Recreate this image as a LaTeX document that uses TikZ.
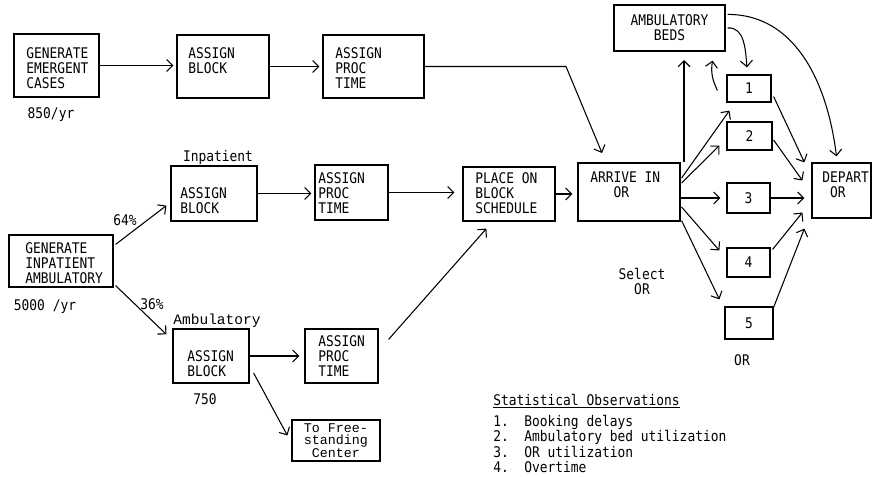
\documentclass[tikz,border=0pt]{standalone}
\usepackage{fontspec}
\newfontfamily\prfont[FakeStretch=0.88]{DejaVu Sans Mono}
\newfontfamily\courfont{Liberation Mono}
\usetikzlibrary{arrows.meta,calc,fit}
\begin{document}
\begin{tikzpicture}[x=0.75pt,y=-0.75pt,
  box/.style={draw,line width=0.9pt,inner sep=0pt},
  txt/.style={font=\prfont\fontsize{11}{11.25}\selectfont,inner sep=0pt,align=left},
  ctxt/.style={txt,align=center},
  lbl/.style={font=\prfont\fontsize{11}{11.25}\selectfont,inner sep=0pt},
  cr/.style={font=\courfont\fontsize{10.9}{8.8}\selectfont,inner sep=0pt,align=center},
  crs/.style={font=\courfont\fontsize{10}{9.6}\selectfont,inner sep=0pt,align=center},
  arr/.style={line width=0.8pt,-{Straight Barb[length=4.5pt,width=9pt]}},
]
\useasboundingbox (0,0) rectangle (876,477);

% top row
\node[box,fit={(14,34)(99,97)}] (gec) {};
\node[txt,anchor=north west] (gect) at (26,47) {GENERATE\\EMERGENT\\CASES};
\node[lbl] (r850) at (51,115) {850/yr};
\node[box,fit={(177,35)(269,98)}] (ab1) {};
\node[txt,anchor=north west] (ab1t) at (188,47) {ASSIGN\\BLOCK};
\node[box,fit={(323,35)(424,98)}] (pt1) {};
\node[txt,anchor=north west] (pt1t) at (335,47) {ASSIGN\\PROC\\TIME};

% inpatient row
\node[lbl] (inp) at (218,157) {Inpatient};
\node[box,fit={(171,166)(257,221)}] (ab2) {};
\node[txt,anchor=north west] (ab2t) at (180,187) {ASSIGN\\BLOCK};
\node[box,fit={(315,165)(388,220)}] (pt2) {};
\node[txt,anchor=north west] (pt2t) at (318,172) {ASSIGN\\PROC\\TIME};
\node[box,fit={(463,167)(555,221)}] (pl) {};
\node[txt,anchor=north west] (plt) at (475,172) {PLACE ON\\BLOCK\\SCHEDULE};
\node[box,fit={(578,163)(680,221)}] (ar) {};
\node[txt,anchor=north west] (art) at (590,172) {ARRIVE IN\\\hphantom{ARR}OR};

% generator
\node[box,fit={(9,235)(113,287)}] (gia) {};
\node[txt,anchor=north west] (giat) at (25,242) {GENERATE\\INPATIENT\\AMBULATORY};
\node[lbl] (r5000) at (45,307) {5000 /yr};
\node[lbl] (p64) at (125,220) {64\%};
\node[lbl] (p36) at (152,304) {36\%};

% ambulatory row
\node[cr] (amb) at (217,321) {Ambulatory};
\node[box,fit={(173,329)(249,383)}] (ab3) {};
\node[txt,anchor=north west] (ab3t) at (187,350) {ASSIGN\\BLOCK};
\node[lbl] (n750) at (205,399) {750};
\node[box,fit={(305,329)(378,383)}] (pt3) {};
\node[txt,anchor=north west] (pt3t) at (318,335) {ASSIGN\\PROC\\TIME};
\node[box,fit={(292,420)(380,461)}] (fs) {};
\node[crs] (fst) at (fs.center) {To Free-\\standing\\Center};

% right side
\node[box,fit={(614,5)(725,51)}] (abd) {};
\node[ctxt] (abdt) at (abd.center) {AMBULATORY\\BEDS};
\node[box,fit={(727,75)(771,102)}] (b1) {};
\node[lbl] (b1t) at (b1.center) {1};
\node[box,fit={(727,122)(772,150)}] (b2) {};
\node[lbl] (b2t) at (b2.center) {2};
\node[box,fit={(727,183)(770,213)}] (b3) {};
\node[lbl] (b3t) at (b3.center) {3};
\node[box,fit={(727,248)(770,277)}] (b4) {};
\node[lbl] (b4t) at (b4.center) {4};
\node[box,fit={(725,307)(773,339)}] (b5) {};
\node[lbl] (b5t) at (b5.center) {5};
\node[lbl] (orl) at (742,360) {OR};
\node[box,fit={(812,163)(871,218)}] (dep) {};
\node[txt,anchor=north west] (dept) at (822,172) {DEPART\\\hphantom{D}OR};
\node[lbl,align=center] (sel) at (642,281) {Select\\OR};

% statistical observations
\node[lbl,anchor=north west] (so) at (493,394) {\underline{Statistical Observations}};
\node[font=\prfont\fontsize{11}{11.6}\selectfont,inner sep=0pt,align=left,anchor=north west] (sol) at (493,415)
  {1.\ \ Booking delays\\2.\ \ Ambulatory bed utilization\\3.\ \ OR utilization\\4.\ \ Overtime};

% connectors
\draw[arr] (gec.east) -- ($(gec.east -| ab1.west)+(-3,0)$);
\draw[arr] (ab1.east) -- ($(ab1.east -| pt1.west)+(-3,0)$);
\coordinate (c1) at (566,67);
\coordinate (c2) at (602,153);
\draw[arr] (pt1.east) -- (pt1.east -| c1) -- (c2);
\draw[arr] ($(gia.north east)+(2,10)$) -- ($(ab2.south west)+(-4,-16)$);
\draw[arr] ($(gia.south east)+(2,-2)$) -- ($(ab3.north west)+(-6,6)$);
\draw[arr] (ab2.east) -- ($(ab2.east -| pt2.west)+(-3,0)$);
\draw[arr] (pt2.east) -- ($(pt2.east -| pl.west)+(-8,0)$);
\draw[arr] (ab3.east) -- ($(ab3.east -| pt3.west)+(-5,0)$);
\draw[arr] ($(ab3.east)+(4,17)$) -- ($(fs.west)+(-4,-5)$);
\draw[arr] ($(pt3.north east)+(10,11)$) -- ($(pl.south west)+(24,7)$);
\draw[arr] (pl.east) -- ($(pl.east -| ar.west)+(-5,0)$);
\coordinate (vup) at (684,60);
\draw[arr] (ar.north east -| vup) -- (vup);
\draw[arr] ($(b1.west)+(-9,2)$) to[out=115,in=-100] ($(abd.south east)+(-13,9)$);
\draw[arr] ($(abd.east)+(2,0)$) to[out=5,in=95] ($(b1.north)+(-2,-7)$);
\draw[arr] ($(abd.north east)+(2,10)$) to[out=0,in=97] ($(dep.north)+(-5,-6)$);

\draw[arr] ($(ar.east)+(1,-14)$) -- ($(b1.south west)+(3,8)$);
\draw[arr] ($(ar.east)+(1,-9)$) -- ($(b2.south west)+(-7,-5)$);
\draw[arr] (ar.east |- b3.west) -- ($(b3.west)+(-6,0)$);
\draw[arr] ($(ar.east)+(1,15)$) -- ($(b4.west)+(-7,-12)$);
\draw[arr] ($(ar.south east)+(1,-1)$) -- ($(b5.north west)+(-5,-7)$);

\draw[arr] ($(b1.east)+(2,8)$) -- ($(dep.north west)+(-7,0)$);
\draw[arr] ($(b2.east)+(1,4)$) -- ($(dep.west)+(-9,-10)$);
\draw[arr] (b3.east) -- ($(b3.east -| dep.west)+(-7,0)$);
\draw[arr] ($(b4.north east)+(2,2)$) -- ($(dep.west)+(-9,22)$);
\draw[arr] ($(b5.north east)+(0,1)$) -- ($(dep.south west)+(-7,10)$);
\end{tikzpicture}
\end{document}
